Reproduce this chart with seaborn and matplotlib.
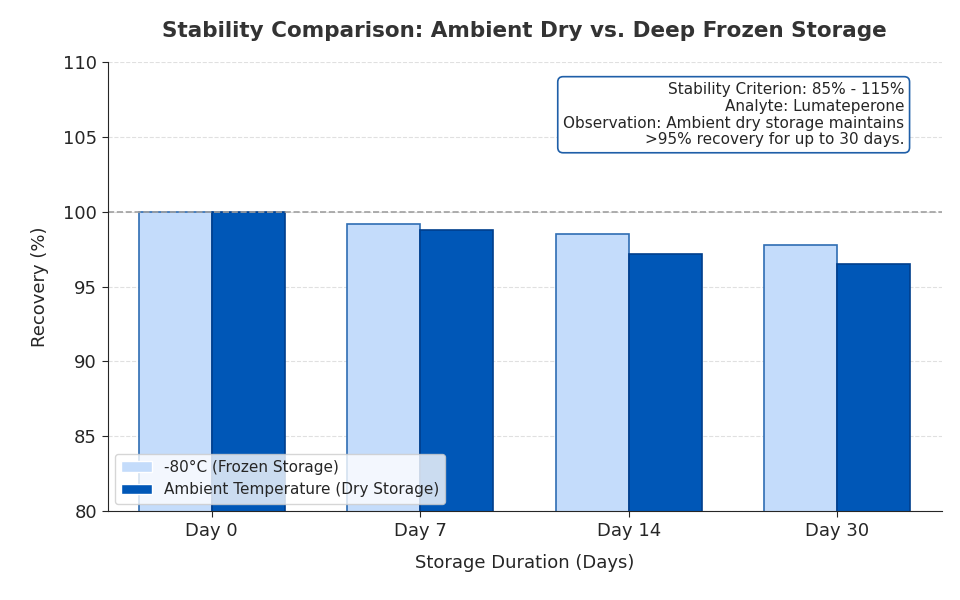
import pandas as pd
import matplotlib.pyplot as plt
import seaborn as sns

days = ['Day 0', 'Day 7', 'Day 14', 'Day 30']
frozen = [100.0, 99.2, 98.5, 97.8]
ambient = [100.0, 98.8, 97.2, 96.5]
series = ['-80°C (Frozen Storage)', 'Ambient Temperature (Dry Storage)']

df = pd.DataFrame({
    'Day': days * 2,
    'Recovery': frozen + ambient,
    'Condition': [series[0]] * 4 + [series[1]] * 4,
})

sns.set_style('white')
plt.rcParams['font.family'] = ['DejaVu Sans']

fig, ax = plt.subplots(figsize=(9.6, 6), dpi=100)
fig.subplots_adjust(left=0.112, right=0.981, top=0.897, bottom=0.148)

sns.barplot(data=df, x='Day', y='Recovery', hue='Condition', ax=ax,
            palette=['#c4dcfb', '#0057b7'], width=0.7, saturation=1)
edges = ['#2f6db3', '#003e8c']
for cont, ec in zip(ax.containers, edges):
    for bar in cont:
        bar.set_edgecolor(ec)
        bar.set_linewidth(1.2)

ax.set_ylim(80, 110)
ax.set_yticks(range(80, 111, 5))
ax.yaxis.grid(True, linestyle='--', color='#e0e0e0', linewidth=0.8)
ax.set_axisbelow(True)
ax.axhline(100, color='#a0a0a0', linestyle='--', linewidth=1.2)
sns.despine(ax=ax)

ax.tick_params(axis='both', labelsize=13, length=4, left=True, bottom=True)
ax.set_xlabel('Storage Duration (Days)', fontsize=13, labelpad=10)
ax.set_ylabel('Recovery (%)', fontsize=13, labelpad=10)
ax.set_title('Stability Comparison: Ambient Dry vs. Deep Frozen Storage',
             fontsize=15.5, fontweight='bold', color='#333333', pad=18)

ax.legend(loc='lower left', fontsize=11, frameon=True, framealpha=0.8,
          borderaxespad=0.5)

ax.text(0.955, 0.955,
        'Stability Criterion: 85% - 115%\nAnalyte: Lumateperone\n'
        'Observation: Ambient dry storage maintains\n>95% recovery for up to 30 days.',
        transform=ax.transAxes, ha='right', va='top', fontsize=11,
        linespacing=1.15,
        bbox=dict(boxstyle='round,pad=0.35', facecolor='white',
                  edgecolor='#1f5fa8', linewidth=1.2))

fig.savefig('out.png', dpi=100)
